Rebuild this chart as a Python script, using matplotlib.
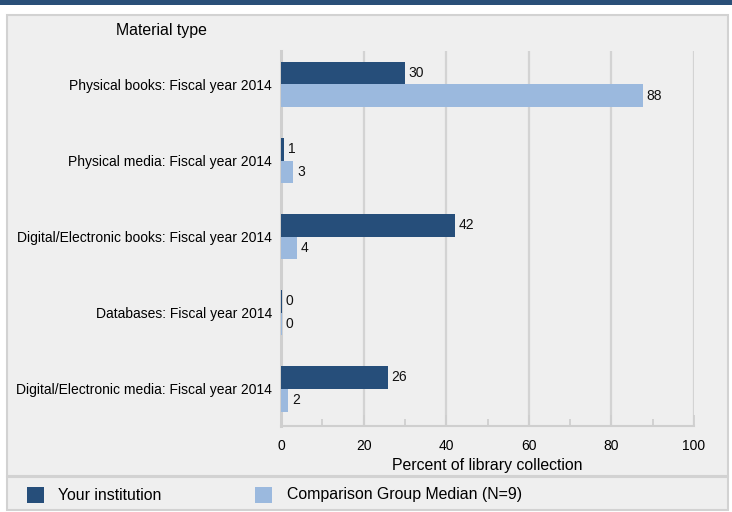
import matplotlib
matplotlib.use("Agg")
import matplotlib.pyplot as plt
from matplotlib.patches import Rectangle
import numpy as np

categories = [
    "Physical books: Fiscal year 2014",
    "Physical media: Fiscal year 2014",
    "Digital/Electronic books: Fiscal year 2014",
    "Databases: Fiscal year 2014",
    "Digital/Electronic media: Fiscal year 2014",
]
your_institution = [30, 0.8, 42.1, 0.3, 25.9]
comparison_median = [87.6, 3, 3.8, 0.2, 1.8]
series_names = ["Your institution", "Comparison Group Median (N=9)"]
x_ticks = [0, 20, 40, 60, 80, 100]

DARK = "#264e7a"
LIGHT = "#9bb9de"
BG = "#efefef"
GRID = "#d3d3d3"

plt.rcParams["font.family"] = ["Liberation Sans", "DejaVu Sans"]

W, H = 732, 512
fig = plt.figure(figsize=(W / 100, H / 100), dpi=100, facecolor="white")

def px(x0, y0, x1, y1):
    return (x0 / W, 1 - y1 / H, (x1 - x0) / W, (y1 - y0) / H)

# top band
fig.patches.append(Rectangle((0, 1 - 4.5 / H), 1, 4.5 / H, transform=fig.transFigure,
                             facecolor="#2a4f78", edgecolor="none", zorder=-2))
# main panel
r = px(7, 15, 728, 476)
fig.patches.append(Rectangle((r[0], r[1]), r[2], r[3], transform=fig.transFigure,
                             facecolor=BG, edgecolor="#d2d2d2", lw=1.5, zorder=-2))
# legend panel
r = px(7, 477, 728, 510)
fig.patches.append(Rectangle((r[0], r[1]), r[2], r[3], transform=fig.transFigure,
                             facecolor=BG, edgecolor="#d2d2d2", lw=1.5, zorder=-2))

ax = fig.add_axes(px(281, 51, 694, 426))
ax.set_zorder(2)
ax.set_facecolor("none")

y = np.arange(len(categories))
h = 0.30
ax.barh(y - h / 2, your_institution, height=h, color=DARK, zorder=3)
ax.barh(y + h / 2, comparison_median, height=h, color=LIGHT, zorder=3)

for yi, v in zip(y, your_institution):
    ax.text(v + 0.9, yi - h / 2, f"{round(v):d}", va="center", ha="left", fontsize=10, color="#111111", zorder=4)
for yi, v in zip(y, comparison_median):
    ax.text(v + 0.9, yi + h / 2, f"{round(v):d}", va="center", ha="left", fontsize=10, color="#111111", zorder=4)

ax.set_xlim(0, 100)
ax.set_ylim(4.49, -0.44)
ax.set_yticks(y)
ax.set_yticklabels(categories, fontsize=10)
ax.tick_params(axis="y", length=0, pad=6.5)
ax.set_xticks(x_ticks)
ax.set_xticks(np.arange(10, 100, 20), minor=True)
ax.tick_params(axis="x", which="major", direction="in", length=8, width=1.3, color="#cfcfcf", labelsize=10, pad=9)
ax.tick_params(axis="x", which="minor", direction="in", length=5, width=1.3, color="#cfcfcf")
ax.xaxis.grid(True, which="major", color=GRID, lw=1.6, zorder=1)
ax.set_axisbelow(True)
for s in ["top", "right"]:
    ax.spines[s].set_visible(False)
ax.spines["left"].set_color("#cfcfcf")
ax.spines["left"].set_linewidth(2.2)
ax.spines["bottom"].set_color("#cfcfcf")
ax.spines["bottom"].set_linewidth(1.5)
ax.set_xlabel("Percent of library collection", fontsize=11.4, labelpad=4)

fig.text(161 / W, 1 - 31 / H, "Material type", fontsize=11.4, ha="center", va="center")

# legend
for (x0, x1, tx), name, col in zip([(27, 44, 58), (255, 272, 287)], series_names, [DARK, LIGHT]):
    r = px(x0, 487, x1, 503)
    fig.patches.append(Rectangle((r[0], r[1]), r[2], r[3], transform=fig.transFigure,
                                 facecolor=col, edgecolor="none", zorder=2))
    fig.text(tx / W, 1 - 495 / H, name, fontsize=11.4, ha="left", va="center")

fig.savefig("out.png", dpi=100, facecolor="white")
